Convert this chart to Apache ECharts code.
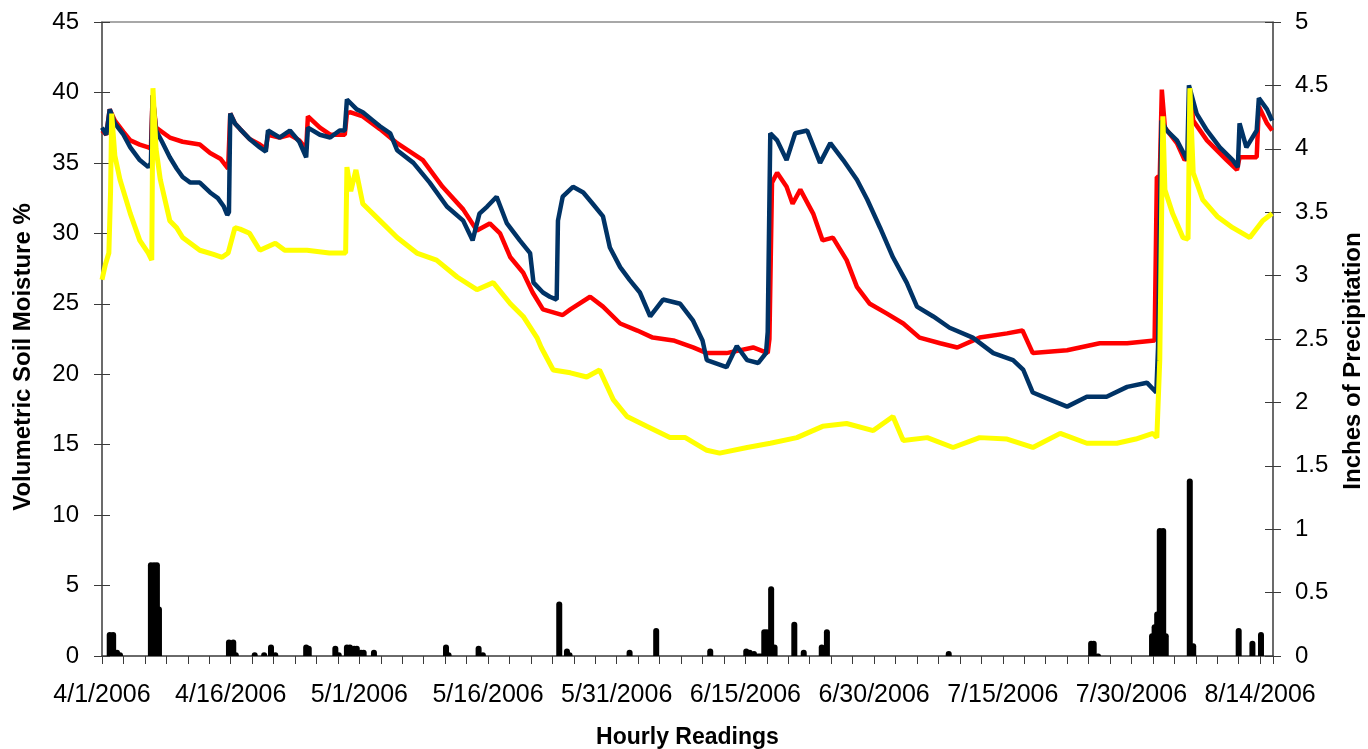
<!DOCTYPE html>
<html>
<head>
<meta charset="utf-8">
<script src="https://cdn.jsdelivr.net/npm/echarts@6/dist/echarts.min.js"></script>
<style>
  html, body { margin: 0; padding: 0; background: #fff; }
  #chart { width: 1368px; height: 749px; }
</style>
</head>
<body>
<div id="chart"></div>
<script>
// x values are days since 4/1/2006 (hourly readings)
const sensorA = [ // navy
  [0,37.5],[0.5,37.0],[0.9,38.8],[1.5,37.8],[2.5,37.0],[3.3,36.1],[4.4,35.2],[5.4,34.7],[5.7,35.0],[5.9,39.8],[6.3,37.3],
  [7,36.5],[7.9,35.4],[8.7,34.6],[9.4,34.0],[10.3,33.6],[11.4,33.6],[12.6,32.9],[13.5,32.5],[14.2,31.9],[14.6,31.3],[14.8,31.5],
  [14.95,38.5],[15.5,37.8],[16.1,37.4],[17.2,36.7],[18.4,36.1],[19.1,35.8],[19.35,37.3],[20.7,36.8],[21.9,37.3],[23.0,36.5],
  [23.8,35.4],[24.0,37.5],[25.4,37.0],[26.6,36.8],[27.7,37.3],[28.3,37.3],[28.55,39.5],[29.7,38.8],[30.4,38.6],[31.6,38.0],
  [32.4,37.6],[33.6,37.1],[34.4,35.9],[36.3,35.0],[38.2,33.6],[40.2,31.9],[42.1,30.9],[43.2,29.5],[44.0,31.4],[44.9,31.9],
  [46.0,32.6],[47.2,30.7],[48.7,29.5],[49.9,28.6],[50.3,26.5],[51.4,25.8],[52.2,25.5],[53.0,25.3],[53.15,30.9],[53.7,32.6],
  [54.9,33.3],[56.1,32.9],[57.2,32.1],[58.4,31.2],[59.2,29.0],[60.4,27.6],[61.5,26.7],[62.7,25.8],[63.9,24.1],[65.4,25.3],
  [67.4,25.0],[68.9,23.8],[70.0,22.4],[70.5,21.0],[72.8,20.5],[74.0,22.0],[75.2,21.0],[76.5,20.8],[77.4,21.5],[77.6,23.0],
  [77.9,37.1],[78.7,36.6],[79.8,35.2],[80.8,37.1],[82.2,37.3],[83.7,35.0],[84.9,36.4],[86.4,35.2],[88.0,33.8],[89.2,32.4],
  [90.7,30.4],[92.2,28.3],[93.8,26.5],[95.0,24.8],[96.9,24.1],[98.8,23.3],[101.5,22.6],[103.9,21.5],[106.2,21.0],[107.4,20.3],
  [108.5,18.7],[110.5,18.2],[112.5,17.7],[114.8,18.4],[117.1,18.4],[119.5,19.1],[121.8,19.4],[122.9,18.7],[123.1,21.9],
  [123.5,38.0],[124.1,37.3],[125.3,36.6],[126.5,35.2],[126.7,40.5],[127.6,38.5],[128.8,37.3],[130.3,36.1],[131.8,35.2],
  [132.4,34.7],[132.6,37.8],[133.4,36.1],[134.6,37.3],[134.85,39.6],[135.8,38.8],[136.4,38.0]
];

const sensorB = [ // red
  [0,37.3],[0.5,37.0],[0.9,38.8],[1.5,38.0],[2.5,37.2],[3.3,36.6],[4.4,36.3],[5.4,36.1],[5.7,36.0],[5.9,39.8],[6.3,37.5],
  [7.9,36.8],[9.4,36.5],[11.4,36.3],[12.6,35.7],[13.8,35.3],[14.7,34.6],[14.95,38.5],[15.5,37.8],[16.1,37.4],[17.2,36.7],
  [18.4,36.3],[19.1,36.0],[19.35,37.0],[20.7,36.8],[21.9,37.0],[23.0,36.6],[23.8,36.0],[24.0,38.3],[25.4,37.5],[26.6,37.0],
  [27.7,37.0],[28.3,37.0],[28.55,38.5],[28.9,38.6],[30.4,38.3],[32.4,37.4],[34.4,36.4],[37.4,35.2],[39.7,33.3],[42.1,31.7],
  [43.7,30.2],[45.2,30.7],[46.4,30.0],[47.6,28.3],[49.1,27.2],[50.2,25.8],[51.4,24.6],[53.7,24.2],[54.6,24.6],[56.9,25.5],
  [58.4,24.8],[60.4,23.6],[62.4,23.1],[64.2,22.6],[66.6,22.4],[68.9,21.9],[70.5,21.5],[72.8,21.5],[75.9,21.9],[77.6,21.5],
  [77.8,22.5],[78.1,33.6],[78.7,34.3],[79.8,33.3],[80.5,32.1],[81.4,33.1],[82.9,31.4],[84.0,29.5],[85.2,29.7],[86.8,28.1],
  [88.0,26.2],[89.5,25.0],[91.5,24.3],[93.4,23.6],[95.3,22.6],[97.7,22.2],[99.7,21.9],[102.3,22.6],[105.5,22.9],[107.3,23.1],
  [108.5,21.5],[112.5,21.7],[116.3,22.2],[119.5,22.2],[122.7,22.4],[122.96,34.0],[123.3,34.0],[123.54,40.2],[123.9,37.5],
  [125.3,36.4],[126.2,35.2],[126.7,35.5],[126.81,40.0],[127.2,38.0],[128.8,36.6],[131.1,35.2],[132.3,34.5],[132.6,35.4],
  [134.6,35.4],[134.85,39.0],[135.8,37.8],[136.4,37.3]
];

const sensorC = [ // yellow
  [0,26.7],[0.4,27.8],[0.8,28.6],[1.0,33.0],[1.13,38.5],[1.5,35.5],[2.1,33.8],[3.3,31.4],[4.4,29.5],[5.4,28.6],[5.8,28.1],
  [5.94,40.3],[6.3,36.0],[6.8,33.8],[7.9,30.9],[8.7,30.4],[9.4,29.7],[11.4,28.8],[13.0,28.5],[14.0,28.3],[14.7,28.6],
  [15.5,30.4],[16.1,30.3],[17.2,30.0],[18.4,28.8],[20.2,29.3],[21.3,28.8],[23.9,28.8],[26.5,28.6],[28.4,28.6],[28.55,34.7],
  [29.0,33.0],[29.6,34.5],[30.4,32.1],[32.4,30.9],[34.4,29.7],[36.7,28.6],[39.0,28.1],[41.4,26.9],[43.7,26.0],[45.6,26.5],
  [47.6,25.0],[49.1,24.1],[50.7,22.6],[51.2,21.9],[52.6,20.3],[54.6,20.1],[56.5,19.8],[58.0,20.3],[59.6,18.2],[61.2,17.0],
  [63.5,16.3],[66.2,15.5],[68.0,15.5],[70.5,14.6],[72.0,14.4],[75.2,14.8],[77.9,15.1],[81.0,15.5],[84.0,16.3],[86.8,16.5],
  [89.9,16.0],[92.2,17.0],[93.4,15.3],[96.2,15.5],[99.2,14.8],[102.3,15.5],[105.5,15.4],[108.5,14.8],[111.7,15.8],
  [114.8,15.1],[118.3,15.1],[120.5,15.4],[122.5,15.8],[122.96,15.5],[123.3,21.0],[123.66,38.3],[123.9,33.1],[124.8,31.4],
  [126.0,29.7],[126.6,29.6],[126.81,40.3],[127.2,34.3],[128.3,32.4],[130.0,31.2],[131.8,30.4],[133.8,29.7],[135.3,30.9],
  [136.4,31.4]
];

const rainfall = [ // inches
  [0.9,0.19],[1.3,0.19],[1.75,0.05],[2.1,0.03],
  [5.7,0.74],[6.06,0.74],[6.4,0.74],[6.64,0.39],
  [14.8,0.13],[15.3,0.13],[15.6,0.03],[17.8,0.03],[18.9,0.03],[19.7,0.09],[20.2,0.03],
  [23.8,0.09],[24.1,0.08],[27.2,0.08],[27.6,0.03],
  [28.55,0.09],[28.9,0.09],[29.4,0.08],[29.7,0.08],[30.2,0.05],[30.5,0.05],[31.7,0.05],
  [40.1,0.09],[40.4,0.03],[43.9,0.08],[44.4,0.03],
  [53.3,0.43],[54.2,0.06],[54.5,0.03],[61.5,0.05],[64.6,0.22],[70.9,0.06],
  [75.1,0.06],[75.5,0.05],[76.0,0.04],[76.5,0.02],[76.8,0.02],[77.2,0.21],[77.5,0.21],[78.0,0.55],[78.4,0.09],
  [80.7,0.27],[81.8,0.05],[83.9,0.09],[84.5,0.21],
  [98.7,0.04],[115.3,0.12],[115.6,0.12],[116.1,0.02],
  [122.4,0.18],[122.7,0.25],[123.0,0.35],[123.3,1.01],[123.7,1.01],[124.0,0.18],
  [126.8,1.40],[127.2,0.10],[132.5,0.22],[134.1,0.12],[135.1,0.19]
];

const FONT = 'Liberation Sans, Arial, sans-serif';
const AXIS = '#3a3a3a';

function dayLabel(v) {
  if (v % 15 !== 0) return '';
  const d = new Date(2006, 3, 1 + v);
  return (d.getMonth() + 1) + '/' + d.getDate() + '/' + d.getFullYear();
}

const chart = echarts.init(document.getElementById('chart'));

const yBase = {
  type: 'value',
  axisLine: { show: true, onZero: false, lineStyle: { color: AXIS, width: 1.5 } },
  splitLine: { show: false },
  axisLabel: { color: '#000', fontSize: 24, fontFamily: FONT },
  nameLocation: 'middle',
  nameRotate: 90
};

chart.setOption({
  animation: false,
  backgroundColor: '#fff',
  grid: { left: 102, right: 95, top: 22, bottom: 93, outerBoundsMode: 'none', containLabel: false },
  xAxis: [
    {
      type: 'value',
      min: 0,
      max: 136.5,
      interval: 15,
      name: 'Hourly Readings',
      nameLocation: 'middle',
      nameGap: 70,
      nameTextStyle: { color: '#000', fontSize: 23, fontWeight: 'bold', fontFamily: FONT },
      axisLine: { onZero: false, lineStyle: { color: AXIS, width: 1.5 } },
      axisTick: { length: 8, lineStyle: { color: AXIS } },
      minorTick: { show: true, splitNumber: 6, length: 8, lineStyle: { color: AXIS } },
      splitLine: { show: false },
      axisLabel: { color: '#000', fontSize: 25, fontFamily: FONT, margin: 27, showMaxLabel: false, formatter: dayLabel }
    },
    { // grey frame line along the top
      type: 'value', position: 'top', min: 0, max: 136.5,
      axisLine: { show: true, onZero: false, lineStyle: { color: '#8c8c8c', width: 1.5 } },
      axisTick: { show: false }, axisLabel: { show: false }, splitLine: { show: false }
    }
  ],
  yAxis: [
    Object.assign({}, yBase, {
      min: 0, max: 45, interval: 5, position: 'left',
      name: 'Volumetric Soil Moisture %', nameGap: 67,
      nameTextStyle: { color: '#000', fontSize: 24, fontWeight: 'bold', fontFamily: FONT, padding: [0, 36, 0, 0] },
      axisTick: { length: 8, lineStyle: { color: AXIS } },
      axisLabel: Object.assign({}, yBase.axisLabel, { margin: 23 })
    }),
    Object.assign({}, yBase, {
      min: 0, max: 5, interval: 0.5, position: 'right',
      name: 'Inches of Precipitation', nameGap: 68,
      nameTextStyle: { color: '#000', fontSize: 24, fontWeight: 'bold', fontFamily: FONT, padding: [0, 44, 0, 0] },
      axisTick: { length: 8, lineStyle: { color: AXIS } },
      axisLabel: Object.assign({}, yBase.axisLabel, { margin: 22 })
    }),
    // inner halves of the cross-style ticks
    {
      type: 'value', min: 0, max: 45, interval: 5, position: 'left',
      axisLine: { show: false, onZero: false }, splitLine: { show: false }, axisLabel: { show: false },
      axisTick: { show: true, inside: true, length: 8, lineStyle: { color: AXIS } }
    },
    {
      type: 'value', min: 0, max: 5, interval: 0.5, position: 'right',
      axisLine: { show: false, onZero: false }, splitLine: { show: false }, axisLabel: { show: false },
      axisTick: { show: true, inside: true, length: 8, lineStyle: { color: AXIS } }
    }
  ],
  series: [
    {
      name: 'Precipitation', type: 'bar', yAxisIndex: 1, data: rainfall,
      barWidth: 6, barGap: '-100%',
      itemStyle: { color: '#000', borderRadius: [3, 3, 0, 0] }
    },
    {
      name: 'Sensor B', type: 'line', data: sensorB, showSymbol: false,
      lineStyle: { color: '#ff0000', width: 4.5 }
    },
    {
      name: 'Sensor A', type: 'line', data: sensorA, showSymbol: false,
      lineStyle: { color: '#003366', width: 4.5 }
    },
    {
      name: 'Sensor C', type: 'line', data: sensorC, showSymbol: false,
      lineStyle: { color: '#ffff00', width: 5 }
    }
  ]
});
</script>
</body>
</html>
